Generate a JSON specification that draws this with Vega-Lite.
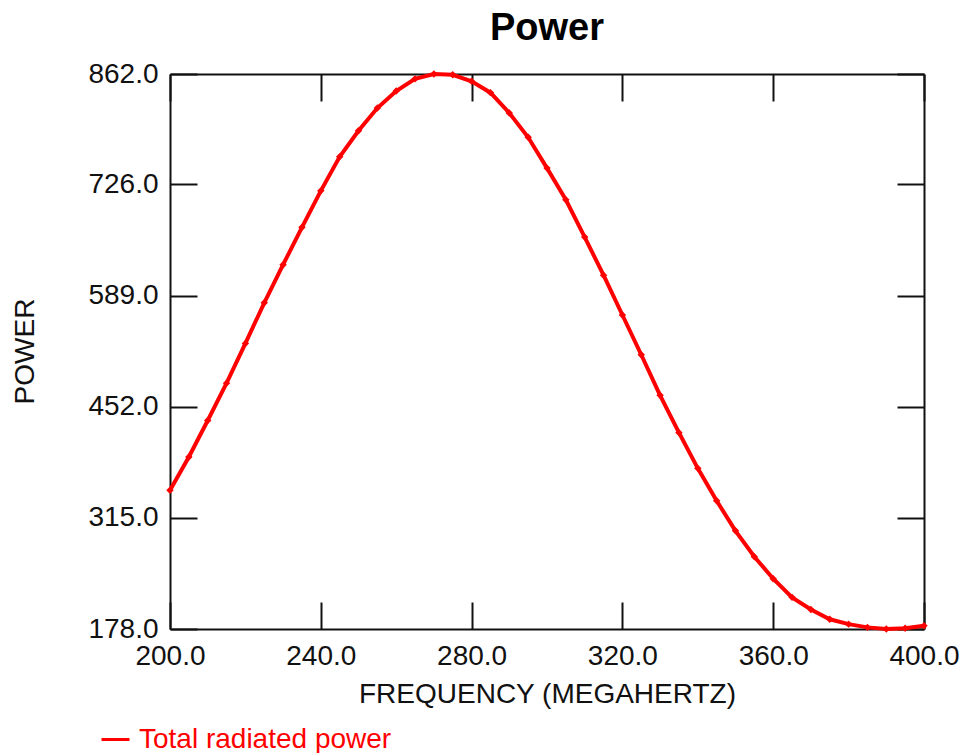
{
  "$schema": "https://vega.github.io/schema/vega-lite/v6.json",
  "width": 754,
  "height": 555,
  "autosize": {"type": "none"},
  "padding": {"left": 170, "top": 74, "right": 37, "bottom": 124},
  "background": "white",
  "title": {"text": "Power", "font": "Liberation Sans", "fontSize": 38, "fontWeight": "bold", "color": "black", "anchor": "middle", "offset": 12},
  "data": {"values": [
    {"frequency": 200, "power": 349, "series": "Total radiated power"},
    {"frequency": 205, "power": 390, "series": "Total radiated power"},
    {"frequency": 210, "power": 435, "series": "Total radiated power"},
    {"frequency": 215, "power": 481, "series": "Total radiated power"},
    {"frequency": 220, "power": 530, "series": "Total radiated power"},
    {"frequency": 225, "power": 580, "series": "Total radiated power"},
    {"frequency": 230, "power": 627, "series": "Total radiated power"},
    {"frequency": 235, "power": 673, "series": "Total radiated power"},
    {"frequency": 240, "power": 718, "series": "Total radiated power"},
    {"frequency": 245, "power": 760, "series": "Total radiated power"},
    {"frequency": 250, "power": 792, "series": "Total radiated power"},
    {"frequency": 255, "power": 820, "series": "Total radiated power"},
    {"frequency": 260, "power": 841, "series": "Total radiated power"},
    {"frequency": 265, "power": 856, "series": "Total radiated power"},
    {"frequency": 270, "power": 862, "series": "Total radiated power"},
    {"frequency": 275, "power": 861, "series": "Total radiated power"},
    {"frequency": 280, "power": 853, "series": "Total radiated power"},
    {"frequency": 285, "power": 839, "series": "Total radiated power"},
    {"frequency": 290, "power": 814, "series": "Total radiated power"},
    {"frequency": 295, "power": 784, "series": "Total radiated power"},
    {"frequency": 300, "power": 746, "series": "Total radiated power"},
    {"frequency": 305, "power": 707, "series": "Total radiated power"},
    {"frequency": 310, "power": 661, "series": "Total radiated power"},
    {"frequency": 315, "power": 614, "series": "Total radiated power"},
    {"frequency": 320, "power": 565, "series": "Total radiated power"},
    {"frequency": 325, "power": 516, "series": "Total radiated power"},
    {"frequency": 330, "power": 466, "series": "Total radiated power"},
    {"frequency": 335, "power": 420, "series": "Total radiated power"},
    {"frequency": 340, "power": 376, "series": "Total radiated power"},
    {"frequency": 345, "power": 336, "series": "Total radiated power"},
    {"frequency": 350, "power": 299, "series": "Total radiated power"},
    {"frequency": 355, "power": 267, "series": "Total radiated power"},
    {"frequency": 360, "power": 240, "series": "Total radiated power"},
    {"frequency": 365, "power": 217, "series": "Total radiated power"},
    {"frequency": 370, "power": 202, "series": "Total radiated power"},
    {"frequency": 375, "power": 190, "series": "Total radiated power"},
    {"frequency": 380, "power": 184, "series": "Total radiated power"},
    {"frequency": 385, "power": 180, "series": "Total radiated power"},
    {"frequency": 390, "power": 178, "series": "Total radiated power"},
    {"frequency": 395, "power": 179, "series": "Total radiated power"},
    {"frequency": 400, "power": 182, "series": "Total radiated power"}
  ]},
  "layer": [
    {
      "mark": {"type": "line", "strokeWidth": 4},
      "encoding": {
        "x": {"field": "frequency", "type": "quantitative", "scale": {"domain": [200, 400], "nice": false, "zero": false},
          "axis": {"orient": "bottom", "values": [200, 240, 280, 320, 360, 400], "format": ".1f", "labelFlush": false, "labelPadding": 40, "title": "FREQUENCY (MEGAHERTZ)", "titleY": 51, "titleBaseline": "top"}},
        "y": {"field": "power", "type": "quantitative", "scale": {"domain": [178, 862], "nice": false, "zero": false},
          "axis": {"orient": "left", "values": [178, 315, 452, 589, 726, 862], "format": ".1f", "labelFlush": false, "labelPadding": 39, "title": "POWER", "titleX": -145, "titleY": 277, "titleBaseline": "middle", "titleAlign": "center"}},
        "color": {"field": "series", "type": "nominal", "scale": {"range": ["#ff0000"]},
          "legend": {"title": null, "orient": "none", "legendX": -70, "legendY": 650, "symbolType": "stroke", "symbolStrokeWidth": 3, "symbolSize": 784, "labelFont": "Liberation Sans", "labelFontSize": 28, "labelColor": "#ff0000", "labelOffset": 8, "labelLimit": 500}}
      }
    },
    {
      "mark": {"type": "point", "shape": "diamond", "filled": true, "size": 55, "color": "#ff0000", "opacity": 1},
      "encoding": {
        "x": {"field": "frequency", "type": "quantitative", "scale": {"domain": [200, 400], "nice": false, "zero": false},
          "axis": {"orient": "top", "values": [200, 240, 280, 320, 360, 400], "labels": false, "title": null}},
        "y": {"field": "power", "type": "quantitative", "scale": {"domain": [178, 862], "nice": false, "zero": false},
          "axis": {"orient": "right", "values": [178, 315, 452, 589, 726, 862], "labels": false, "title": null}}
      }
    }
  ],
  "resolve": {"axis": {"x": "independent", "y": "independent"}},
  "config": {
    "view": {"stroke": null},
    "axis": {
      "grid": false,
      "domainColor": "#111111",
      "domainWidth": 2,
      "tickColor": "#111111",
      "tickWidth": 2,
      "tickSize": -27,
      "labelFont": "Liberation Sans",
      "labelFontSize": 28,
      "labelColor": "#111111",
      "titleFont": "Liberation Sans",
      "titleFontSize": 28,
      "titleFontWeight": "normal",
      "titleColor": "#111111"
    }
  }
}
